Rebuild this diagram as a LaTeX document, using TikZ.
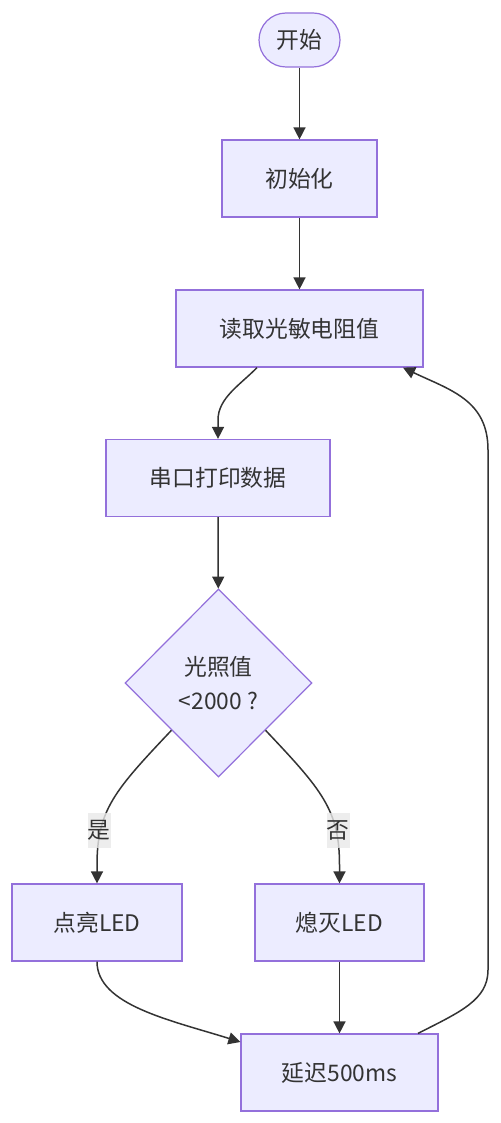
\documentclass[tikz,border=0pt]{standalone}
\usepackage{fontspec}
\setmainfont{Noto Sans CJK SC}
\usetikzlibrary{shapes.geometric,arrows.meta}
\definecolor{nodefill}{HTML}{ECECFF}
\definecolor{nodeline}{HTML}{9370DB}
\definecolor{edgecol}{HTML}{333333}
\definecolor{lblbg}{HTML}{E8E8E8}
\begin{document}
\begin{tikzpicture}[x=0.5pt,y=-0.5pt,
  font=\fontsize{11.4}{17}\selectfont,
  base/.style={draw=nodeline,fill=nodefill,line width=0.6pt,text=edgecol,inner sep=0pt,align=center},
  proc/.style={base,rectangle,minimum height=38.5pt},
  term/.style={base,rectangle,rounded corners=13.5pt,minimum width=40.5pt,minimum height=27pt},
  dec/.style={base,diamond,minimum width=93.5pt,minimum height=94pt},
  arr/.style={draw=edgecol,line width=0.75pt,-{Triangle[length=6pt,width=6pt]}},
  lbl/.style={fill=lblbg,fill opacity=0.8,text opacity=1,text=edgecol,inner sep=0pt,minimum width=11.5pt,minimum height=17.5pt}]
\useasboundingbox (0,0) rectangle (500,1123);
\node[term] (start) at (299.5,40) {开始};
\node[proc,minimum width=77.5pt] (init) at (299.5,178.5) {初始化};
\node[proc,minimum width=123.5pt] (read) at (299.5,328.5) {读取光敏电阻值};
\node[proc,minimum width=112pt] (print) at (218,478) {串口打印数据};
\node[dec] (cond) at (218.5,683) {光照值\\<2000 ?};
\node[proc,minimum width=85pt] (on) at (97,922.5) {点亮LED};
\node[proc,minimum width=84.5pt] (off) at (339.5,922.5) {熄灭LED};
\node[proc,minimum width=98.5pt] (delay) at (339.5,1072.5) {延迟500ms};
\draw[arr] (start) -- (init);
\draw[arr] (init) -- (read);
\draw[arr] ([xshift=-21.25pt]read.south) .. controls (240,385) and (218,398) .. (218,420) -- (print.north);
\draw[arr] (print) -- (cond);
\draw[arr] (cond.south west) .. controls (115,790) and (97,810) .. (97,865) -- (on.north);
\draw[arr] (cond.south east) .. controls (322,790) and (339.5,810) .. (339.5,865) -- (off.north);
\draw[arr] (on.south) .. controls (97,1005) and (170,1020) .. ([yshift=15.25pt]delay.west);
\draw[arr] (off) -- (delay);
\draw[arr] ([xshift=39.25pt]delay.north) .. controls (460,1012) and (488,1000) .. (488,970) -- (488,450) .. controls (488,400) and (450,390) .. ([xshift=51.75pt]read.south);
\node[lbl] (ly) at (99,830) {是};
\node[lbl] (ln) at (338,830) {否};
\end{tikzpicture}
\end{document}
